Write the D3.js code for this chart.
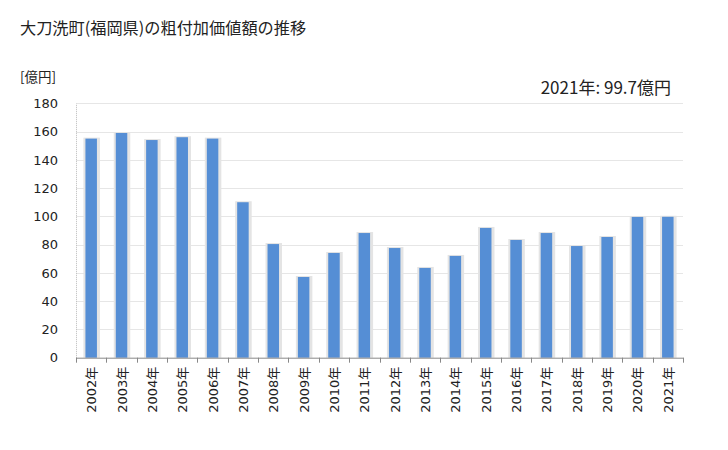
<!DOCTYPE html>
<html><head><meta charset="utf-8">
<script src="https://cdn.jsdelivr.net/npm/d3@7"></script>
<style>body{margin:0;background:#fff;} text{font-family:"DejaVu Sans","Noto Sans CJK JP",sans-serif;}</style>
</head><body>
<svg id="c" width="728" height="450"></svg>
<script>
const years = ["2002年","2003年","2004年","2005年","2006年","2007年","2008年","2009年","2010年","2011年","2012年","2013年","2014年","2015年","2016年","2017年","2018年","2019年","2020年","2021年"];
const values = [155,159,154,156,155,110,80.4,57.1,74.1,88.2,77.6,63.5,72,91.8,83.3,88.2,79,85.4,99.6,99.7];
const yTicks = [0,20,40,60,80,100,120,140,160,180];
const title = "大刀洗町(福岡県)の粗付加価値額の推移";
const unit = "[億円]";
const note = "2021年: 99.7億円";

const svg = d3.select("#c");
const pL = 76, pR = 683, pT = 103.3, pB = 357.7;
const x = d3.scaleBand().domain(years).range([pL, pR]).padding(0);
const y = d3.scaleLinear().domain([0,180]).range([pB, pT]);

svg.append("text").attr("x",20).attr("y",34).attr("font-size",16.2).attr("fill","#222")
  .style("font-family","'Noto Sans CJK JP',sans-serif").text(title);
svg.append("text").attr("x",20).attr("y",82).attr("font-size",13.5).attr("fill","#222")
  .style("font-family","'Noto Sans CJK JP',sans-serif").text(unit);
svg.append("text").attr("x",671).attr("y",94).attr("font-size",17).attr("fill","#222")
  .attr("text-anchor","end").style("font-family","'Noto Sans CJK JP',sans-serif").text(note);

// grid
svg.append("g").selectAll("line").data(yTicks.slice(1)).join("line")
  .attr("x1",pL).attr("x2",pR).attr("y1",d=>Math.round(y(d))+0.5).attr("y2",d=>Math.round(y(d))+0.5)
  .attr("stroke","#e6e6e6").attr("stroke-width",1);

// y axis
const ya = svg.append("g").attr("transform",`translate(${pL},0)`)
  .call(d3.axisLeft(y).tickValues(yTicks).tickSize(0).tickPadding(18));
ya.select(".domain").attr("stroke","#bbb").attr("stroke-dasharray","1,1");
ya.selectAll("text").attr("font-size",13).attr("fill","#222");

// bars with shadow
const bw = 11.5;
const bars = svg.append("g");
bars.selectAll("rect.s").data(values).join("rect").attr("class","s")
  .attr("x",(d,i)=>x(years[i])+x.bandwidth()/2-bw/2-2).attr("width",bw+5)
  .attr("y",d=>y(d)-1).attr("height",d=>pB-y(d)+1).attr("fill","#e4e4e4");
bars.selectAll("rect.b").data(values).join("rect").attr("class","b")
  .attr("x",(d,i)=>x(years[i])+x.bandwidth()/2-bw/2).attr("width",bw)
  .attr("y",d=>y(d)).attr("height",d=>pB-y(d)).attr("fill","#558ed5");

// x axis
const xa = svg.append("g").attr("transform",`translate(0,${pB})`)
  .call(d3.axisBottom(x).tickSize(0).tickFormat(""));
xa.select(".domain").attr("stroke","#888");
const bounds = years.map(d=>x(d)).concat([pR]);
svg.append("g").selectAll("line").data(bounds).join("line")
  .attr("x1",d=>Math.round(d)+0.5).attr("x2",d=>Math.round(d)+0.5).attr("y1",pB).attr("y2",pB+5)
  .attr("stroke","#888");
svg.append("g").selectAll("text").data(years).join("text")
  .attr("transform",d=>`translate(${x(d)+x.bandwidth()/2+5},${pB+9}) rotate(-90)`)
  .attr("text-anchor","end").attr("font-size",13).attr("fill","#222").text(d=>d);
</script>
</body></html>
